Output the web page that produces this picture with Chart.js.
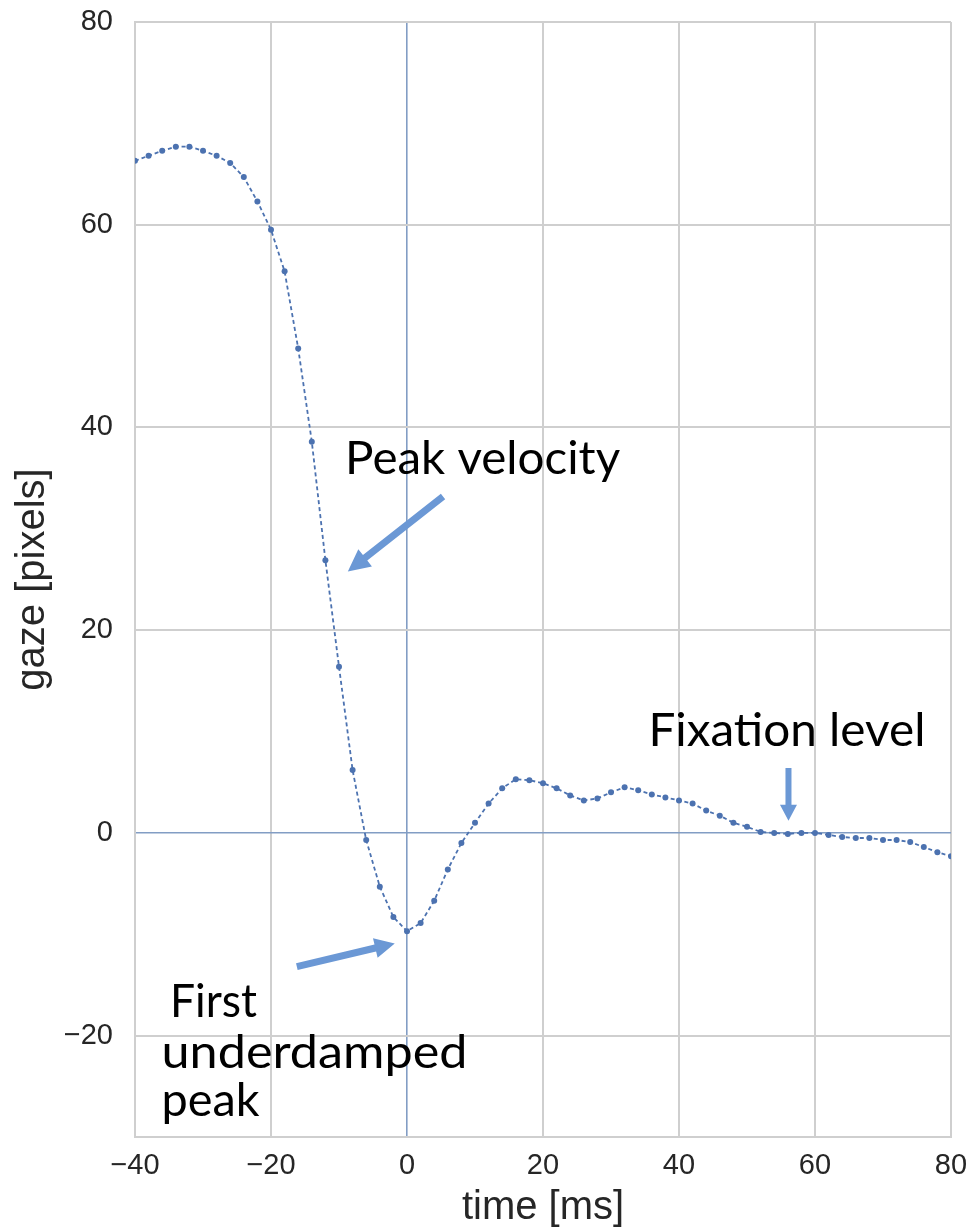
<!DOCTYPE html>
<html>
<head>
<meta charset="utf-8">
<script src="https://cdn.jsdelivr.net/npm/chart.js@4"></script>
<style>
html, body { margin: 0; padding: 0; background: #fff; }
canvas { display: block; }
</style>
</head>
<body>
<canvas id="sacada" width="969" height="1232"></canvas>
<script>
// tempo das amostras (ms)
var tempo = [-40, -38, -36, -34, -32, -30, -28, -26, -24, -22,
             -20, -18, -16, -14, -12, -10, -8, -6, -4, -2,
             0, 2, 4, 6, 8, 10, 12, 14, 16, 18,
             20, 22, 24, 26, 28, 30, 32, 34, 36, 38,
             40, 42, 44, 46, 48, 50, 52, 54, 56, 58,
             60, 62, 64, 66, 68, 70, 72, 74, 76, 78, 80];
// posicao do olhar (pixels)
var olhar = [66.3, 66.8, 67.3, 67.7, 67.7, 67.3, 66.8, 66.1, 64.7, 62.3,
             59.5, 55.4, 47.8, 38.6, 26.9, 16.4, 6.2, -0.7, -5.3, -8.3,
             -9.7, -8.9, -6.7, -3.6, -1.0, 1.0, 2.9, 4.4, 5.3, 5.2,
             4.9, 4.4, 3.7, 3.2, 3.4, 4.0, 4.5, 4.2, 3.8, 3.5,
             3.2, 2.9, 2.2, 1.7, 1.0, 0.6, 0.1, 0.0, -0.1, 0.0,
             0.0, -0.2, -0.4, -0.5, -0.5, -0.7, -0.7, -0.9, -1.4, -1.9, -2.3];
var ticksX = [-40, -20, 0, 20, 40, 60, 80];
var ticksY = [-20, 0, 20, 40, 60, 80];

var pontos = tempo.map(function (t, i) { return { x: t, y: olhar[i] }; });

var CINZA = '#cfcfcf';
var ZERO = '#829dc4';
var TEXTO = '#262626';

function rotulo(v) {
    return v < 0 ? '\u2212' + Math.abs(v) : String(v);
}
function corGrade(c) {
    return c.tick && c.tick.value === 0 ? ZERO : CINZA;
}
function larguraGrade(c) {
    return c.tick && c.tick.value === 0 ? 1.6 : 2;
}

// anotacoes em coordenadas dos dados
var anotacoes = {
    textos: [
        { t: 'Peak velocity', x: -9.1, y: 35.4, w: 275 },
        { t: 'Fixation level', x: 35.5, y: 8.6, w: 277 },
        { t: 'First', x: -34.85, y: -18.2, w: 87 },
        { t: 'underdamped', x: -36.1, y: -23.15, w: 306 },
        { t: 'peak', x: -36.1, y: -27.9, w: 98 }
    ],
    setas: [
        { x0: 5.3, y0: 33.2, x1: -8.7, y1: 25.8, haste: 7, cabeca: 22, compr: 22 },
        { x0: 56.1, y0: 6.4, x1: 56.1, y1: 1.2, haste: 6, cabeca: 17, compr: 16 },
        { x0: -16.2, y0: -13.2, x1: -1.8, y1: -10.9, haste: 7, cabeca: 20, compr: 20 }
    ]
};

var pluginAnotacoes = {
    id: 'anotacoes',
    afterDraw: function (chart) {
        var c = chart.ctx, sx = chart.scales.x, sy = chart.scales.y;
        c.save();
        c.fillStyle = '#6b98d5';
        anotacoes.setas.forEach(function (s) {
            var ax = sx.getPixelForValue(s.x0), ay = sy.getPixelForValue(s.y0);
            var bx = sx.getPixelForValue(s.x1), by = sy.getPixelForValue(s.y1);
            var ang = Math.atan2(by - ay, bx - ax);
            var len = Math.hypot(bx - ax, by - ay);
            c.save();
            c.translate(ax, ay);
            c.rotate(ang);
            c.beginPath();
            c.moveTo(0, -s.haste / 2);
            c.lineTo(len - s.compr, -s.haste / 2);
            c.lineTo(len - s.compr, -s.cabeca / 2);
            c.lineTo(len, 0);
            c.lineTo(len - s.compr, s.cabeca / 2);
            c.lineTo(len - s.compr, s.haste / 2);
            c.lineTo(0, s.haste / 2);
            c.closePath();
            c.fill();
            c.restore();
        });
        c.fillStyle = '#000';
        c.font = '47px Lato';
        c.textBaseline = 'alphabetic';
        c.textAlign = 'left';
        anotacoes.textos.forEach(function (a) {
            var px = sx.getPixelForValue(a.x), py = sy.getPixelForValue(a.y);
            var m = c.measureText(a.t).width;
            c.save();
            c.translate(px, py);
            c.scale(a.w / m, 1);
            c.fillText(a.t, 0, 0);
            c.restore();
        });
        c.restore();
    }
};

var ctx = document.getElementById('sacada').getContext('2d');
var grafico = new Chart(ctx, {
    type: 'line',
    data: {
        datasets: [{
            data: pontos,
            borderColor: '#4c72b0',
            backgroundColor: '#4c72b0',
            borderWidth: 1.8,
            borderDash: [4, 3],
            pointRadius: 3,
            pointBorderWidth: 0,
            pointBackgroundColor: '#4c72b0',
            tension: 0,
            fill: false
        }]
    },
    options: {
        responsive: false,
        animation: false,
        layout: { padding: { top: 22, right: 18, left: 0, bottom: 0 } },
        plugins: { legend: { display: false }, tooltip: { enabled: false } },
        scales: {
            x: {
                type: 'linear',
                min: -40,
                max: 80,
                afterBuildTicks: function (s) { s.ticks = ticksX.map(function (v) { return { value: v }; }); },
                afterFit: function (s) { s.height = 95; s.paddingLeft = 0; s.paddingRight = 0; },
                ticks: {
                    padding: 12,
                    color: TEXTO,
                    font: { family: 'Liberation Sans', size: 29 },
                    callback: rotulo,
                    maxRotation: 0
                },
                grid: { color: corGrade, lineWidth: larguraGrade, drawTicks: false },
                border: { display: true, color: CINZA, width: 2 },
                title: {
                    display: true,
                    text: 'time [ms]',
                    color: TEXTO,
                    font: { family: 'Liberation Sans', size: 40 },
                    padding: 0
                }
            },
            y: {
                min: -30,
                max: 80,
                afterBuildTicks: function (s) { s.ticks = ticksY.map(function (v) { return { value: v }; }); },
                afterFit: function (s) { s.width = 135; s.paddingTop = 0; s.paddingBottom = 0; },
                ticks: {
                    padding: 22,
                    color: TEXTO,
                    font: { family: 'Liberation Sans', size: 29 },
                    callback: rotulo
                },
                grid: { color: corGrade, lineWidth: larguraGrade, drawTicks: false },
                border: { display: true, color: CINZA, width: 2 },
                title: {
                    display: true,
                    text: 'gaze [pixels]',
                    color: TEXTO,
                    font: { family: 'Liberation Sans', size: 40 },
                    padding: { top: 9, bottom: 0 }
                }
            }
        }
    },
    plugins: [pluginAnotacoes]
});
</script>
</body>
</html>
